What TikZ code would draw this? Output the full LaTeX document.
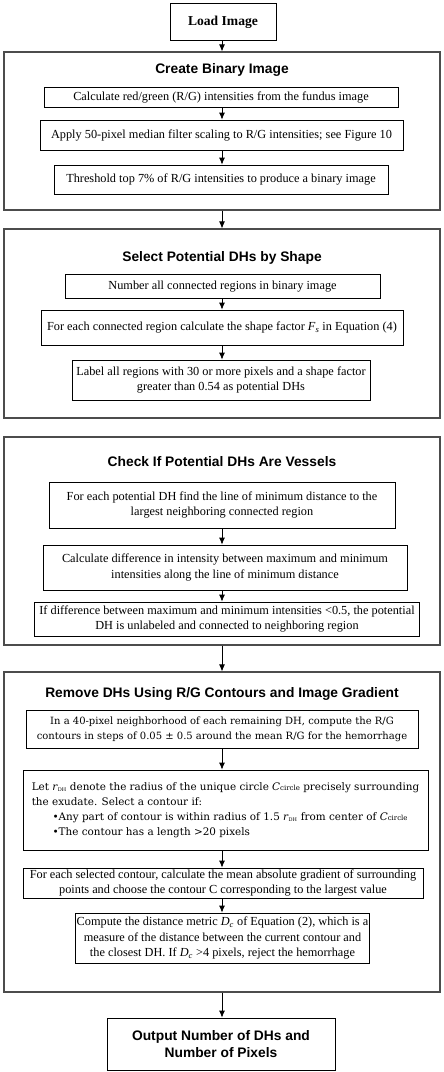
\documentclass[tikz,border=0pt]{standalone}
\usepackage{fontspec}
\setmainfont{Liberation Serif}
\setsansfont{Liberation Sans}
\newfontfamily\cambria{DejaVu Serif}
\usetikzlibrary{arrows.meta, positioning}

\begin{document}
\begin{tikzpicture}[x=1pt, y=-1pt, >={Latex[length=7pt, width=6pt]},
    font=\fontsize{12.3}{15.5}\selectfont,
    group/.style={draw=black!70, line width=1.2pt, minimum width=436pt},
    stepbox/.style={draw, line width=0.8pt, align=center, inner sep=1pt},
    heading/.style={font=\sffamily\bfseries\fontsize{13.8}{16.5}\selectfont},
    link/.style={->, line width=0.8pt}]
\useasboundingbox (0,0) rectangle (444,1072);
\coordinate (spine) at (222,0);

\node[draw, line width=0.8pt, minimum width=106pt, minimum height=37pt, font=\bfseries\fontsize{13.6}{16}\selectfont] (load) at (223,22) {Load Image};

\node[group, minimum height=158pt] (binary) at (222,131) {};
\node[heading] (binarytitle) at (222,70) {Create Binary Image};
\node[stepbox, minimum width=354pt, minimum height=20pt] (ratio) at (221,97.5) {Calculate red/green (R/G) intensities from the fundus image};
\node[stepbox, minimum width=363pt, minimum height=30pt] (median) at (221.5,135) {Apply 50-pixel median filter scaling to R/G intensities; see Figure 10};
\node[stepbox, minimum width=334pt, minimum height=29pt] (threshold) at (221,179.5) {Threshold top 7\% of R/G intensities to produce a binary image};

\node[group, minimum height=189pt] (shape) at (222,323.5) {};
\node[heading] (shapetitle) at (222,258) {Select Potential DHs by Shape};
\node[stepbox, minimum width=315pt, minimum height=24pt] (number) at (222.5,286.5) {Number all connected regions in binary image};
\node[stepbox, minimum width=362pt, minimum height=35pt] (factor) at (222,327.5) {For each connected region calculate the shape factor \textit{F}\textsubscript{\itshape s} in Equation (4)};
\node[stepbox, minimum width=298pt, minimum height=40pt] (label) at (221,380) {Label all regions with 30 or more pixels and a shape factor\\greater than 0.54 as potential DHs};

\node[group, minimum height=208pt] (vessel) at (222,541) {};
\node[heading] (vesseltitle) at (222,462) {Check If Potential DHs Are Vessels};
\node[stepbox, minimum width=346pt, minimum height=46pt] (line) at (222,505) {For each potential DH find the line of minimum distance to the\\largest neighboring connected region};
\node[stepbox, minimum width=364pt, minimum height=45pt] (diff) at (225,567.5) {Calculate difference in intensity between maximum and minimum\\intensities along the line of minimum distance};
\node[stepbox, minimum width=385pt, minimum height=34pt] (unlabel) at (227,619) {If difference between maximum and minimum intensities <0.5, the potential\\DH is unlabeled and connected to neighboring region};

\node[group, minimum height=320pt] (contour) at (222,832) {};
\node[heading] (contourtitle) at (222,694) {Remove DHs Using R/G Contours and Image Gradient};
\node[stepbox, minimum width=392pt, minimum height=38pt, font=\cambria\fontsize{10}{15}\selectfont] (contours) at (222,729) {In a 40-pixel neighborhood of each remaining DH, compute the R/G\\contours in steps of 0.05 ± 0.5 around the mean R/G for the hemorrhage};
\node[stepbox, align=left, minimum width=405pt, minimum height=80pt, font=\cambria\fontsize{10.4}{15}\selectfont] (select) at (225.5,810) {Let \textit{r}\textsubscript{\tiny DH} denote the radius of the unique circle \textit{C}{\scriptsize circle} precisely surrounding\\the exudate. Select a contour if:\\\hspace*{2em}\textbullet Any part of contour is within radius of 1.5 \textit{r}\textsubscript{\tiny DH} from center of \textit{C}{\scriptsize circle}\\\hspace*{2em}\textbullet The contour has a length >20 pixels};
\node[stepbox, minimum width=400pt, minimum height=30pt] (gradient) at (223,883) {For each selected contour, calculate the mean absolute gradient of surrounding\\points and choose the contour C corresponding to the largest value};
\node[stepbox, minimum width=287pt, minimum height=50pt] (distance) at (222.5,938) {Compute the distance metric \textit{D}\textsubscript{\itshape c} of Equation (2), which is a\\measure of the distance between the current contour and\\the closest DH. If \textit{D}\textsubscript{\itshape c} >4 pixels, reject the hemorrhage};

\node[draw, line width=0.8pt, minimum width=228pt, minimum height=52pt, align=center, heading] (output) at (221,1044) {Output Number of DHs and\\Number of Pixels};

\draw[link] (load.south -| spine) -- (binary.north -| spine);
\draw[link] (ratio.south -| spine) -- (median.north -| spine);
\draw[link] (median.south -| spine) -- (threshold.north -| spine);
\draw[link] (binary.south -| spine) -- (shape.north -| spine);
\draw[link] (number.south -| spine) -- (factor.north -| spine);
\draw[link] (factor.south -| spine) -- (label.north -| spine);
\draw[link] (line.south -| spine) -- (diff.north -| spine);
\draw[link] (diff.south -| spine) -- (unlabel.north -| spine);
\draw[link] (vessel.south -| spine) -- (contour.north -| spine);
\draw[link] (contours.south -| spine) -- (select.north -| spine);
\draw[link] (select.south -| spine) -- (gradient.north -| spine);
\draw[link] (gradient.south -| spine) -- (distance.north -| spine);
\draw[link] (contour.south -| spine) -- (output.north -| spine);
\end{tikzpicture}
\end{document}
